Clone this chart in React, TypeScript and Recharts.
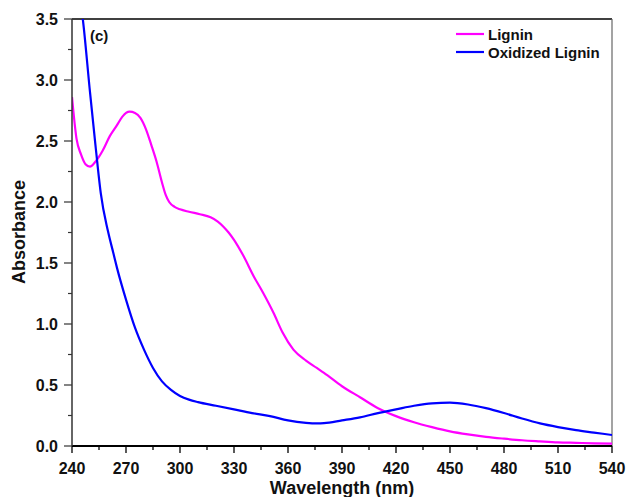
import React from 'react';
import { LineChart, Line, XAxis, YAxis, Legend, ReferenceLine, Label } from 'recharts';

const ligninWavelengths = [240, 242.5, 245, 247.5, 250, 253, 257, 261, 265, 268, 272, 275, 278, 281, 284, 287, 290, 292, 294, 297, 300, 305, 311, 317, 321, 324, 327, 330, 335, 341, 346, 352, 357, 363, 370, 376, 380, 390, 400, 410, 420, 430, 440, 450, 460, 470, 480, 490, 500, 510, 520, 530, 540];
const ligninAbsorbance = [2.86, 2.52, 2.39, 2.31, 2.29, 2.33, 2.42, 2.54, 2.63, 2.7, 2.74, 2.73, 2.69, 2.6, 2.47, 2.33, 2.16, 2.06, 2.0, 1.96, 1.94, 1.92, 1.9, 1.875, 1.84, 1.8, 1.75, 1.69, 1.565, 1.39, 1.26, 1.09, 0.93, 0.79, 0.7, 0.64, 0.6, 0.49, 0.4, 0.31, 0.245, 0.195, 0.155, 0.12, 0.095, 0.075, 0.06, 0.047, 0.038, 0.03, 0.026, 0.022, 0.02];

const oxidizedWavelengths = [240, 243, 246, 250, 253, 254, 256, 260, 263, 265, 270, 275, 280, 285, 290, 295, 300, 305, 310, 320, 330, 340, 350, 360, 370, 376, 380, 390, 400, 410, 420, 430, 440, 450, 460, 470, 480, 490, 500, 510, 520, 530, 540];
const oxidizedAbsorbance = [4.1, 3.8, 3.5, 2.9, 2.47, 2.33, 2.07, 1.76, 1.58, 1.46, 1.2, 0.97, 0.79, 0.64, 0.53, 0.46, 0.41, 0.38, 0.36, 0.33, 0.3, 0.27, 0.245, 0.21, 0.19, 0.185, 0.187, 0.21, 0.235, 0.27, 0.3, 0.33, 0.35, 0.355, 0.34, 0.31, 0.27, 0.225, 0.185, 0.155, 0.13, 0.11, 0.09];

const xTicks = [240, 255, 270, 285, 300, 315, 330, 345, 360, 375, 390, 405, 420, 435, 450, 465, 480, 495, 510, 525, 540];
const yTicks = [0, 0.25, 0.5, 0.75, 1, 1.25, 1.5, 1.75, 2, 2.25, 2.5, 2.75, 3, 3.25, 3.5];

const seriesNames = ['Lignin', 'Oxidized Lignin'];
const seriesColors = ['#FF00FF', '#0000FF'];

const ligninData = ligninWavelengths.map((w, i) => ({ wl: w, lignin: ligninAbsorbance[i] }));
const oxidizedData = oxidizedWavelengths.map((w, i) => ({ wl: w, oxidized: oxidizedAbsorbance[i] }));

const FONT = 'Arial, "Liberation Sans", sans-serif';

const XTick = (props: any) => {
  const { x, y, payload } = props;
  const v = payload.value;
  const major = v % 30 === 0;
  return (
    <g>
      <line x1={x} x2={x} y1={y} y2={y + (major ? 7 : 4)} stroke="#000" strokeWidth={1.3} />
      {major && (
        <text x={x} y={y + 27.5} textAnchor="middle" fontFamily={FONT} fontWeight="bold" fontSize={16} fill="#111">
          {v}
        </text>
      )}
    </g>
  );
};

const YTick = (props: any) => {
  const { x, y, payload } = props;
  const v = payload.value;
  const major = Math.abs(Math.round(v * 2) - v * 2) < 1e-6;
  return (
    <g>
      <line x1={x - (major ? 8 : 4)} x2={x} y1={y} y2={y} stroke="#333" strokeWidth={1.2} />
      {major && (
        <text x={x - 14} y={y + 5.7} textAnchor="end" fontFamily={FONT} fontWeight="bold" fontSize={16} fill="#111">
          {v.toFixed(1)}
        </text>
      )}
    </g>
  );
};

const renderLegend = (props: any) => {
  const { payload } = props;
  return (
    <div style={{ fontFamily: FONT, fontWeight: 'bold', fontSize: 15, color: '#111' }}>
      {(payload || []).map((entry: any, i: number) => (
        <div key={i} style={{ display: 'flex', alignItems: 'center', height: 18.3, whiteSpace: 'nowrap' }}>
          <svg width={32} height={6} style={{ display: 'block' }}>
            <line x1={0} x2={28} y1={3} y2={3} stroke={entry.color} strokeWidth={2.2} />
          </svg>
          <span>{entry.value}</span>
        </div>
      ))}
    </div>
  );
};

export default function App() {
  return (
    <div style={{ position: 'absolute', left: 0, top: 0, background: '#fff' }}>
      <LineChart width={628} height={497} margin={{ top: 19, right: 16, bottom: 11, left: 12 }}>
        <XAxis
          type="number"
          dataKey="wl"
          domain={[240, 540]}
          ticks={xTicks}
          interval={0}
          allowDataOverflow
          tick={<XTick />}
          tickLine={false}
          tickSize={0}
          tickMargin={0}
          height={40}
          axisLine={{ stroke: '#000', strokeWidth: 2 }}
        >
          <Label
            content={() => (
              <text x={342} y={494} textAnchor="middle" fontFamily={FONT} fontWeight="bold" fontSize={18} fill="#111">
                Wavelength (nm)
              </text>
            )}
          />
        </XAxis>
        <YAxis
          type="number"
          domain={[0, 3.5]}
          ticks={yTicks}
          interval={0}
          allowDataOverflow
          tick={<YTick />}
          tickLine={false}
          tickSize={0}
          tickMargin={0}
          width={60}
          axisLine={{ stroke: '#333', strokeWidth: 1.5 }}
        >
          <Label
            content={() => (
              <g>
                <text
                  x={25}
                  y={232}
                  transform="rotate(-90 25 232)"
                  textAnchor="middle"
                  fontFamily={FONT}
                  fontWeight="bold"
                  fontSize={18}
                  fill="#111"
                >
                  Absorbance
                </text>
                <text x={90} y={41} fontFamily={FONT} fontWeight="bold" fontSize={15} fill="#111">
                  (c)
                </text>
              </g>
            )}
          />
        </YAxis>
        <ReferenceLine y={3.5} stroke="#000" strokeWidth={1.5} />
        <ReferenceLine x={540} stroke="#666" strokeWidth={1.2} />
        <Legend
          layout="vertical"
          align="center"
          verticalAlign="middle"
          content={renderLegend}
          wrapperStyle={{ position: 'absolute', top: 25, left: 456, width: 160, height: 40 }}
        />
        <Line
          data={ligninData}
          dataKey="lignin"
          name={seriesNames[0]}
          type="monotone"
          stroke={seriesColors[0]}
          strokeWidth={2.2}
          dot={false}
          isAnimationActive={false}
        />
        <Line
          data={oxidizedData}
          dataKey="oxidized"
          name={seriesNames[1]}
          type="monotone"
          stroke={seriesColors[1]}
          strokeWidth={2.2}
          dot={false}
          isAnimationActive={false}
        />
      </LineChart>
    </div>
  );
}
